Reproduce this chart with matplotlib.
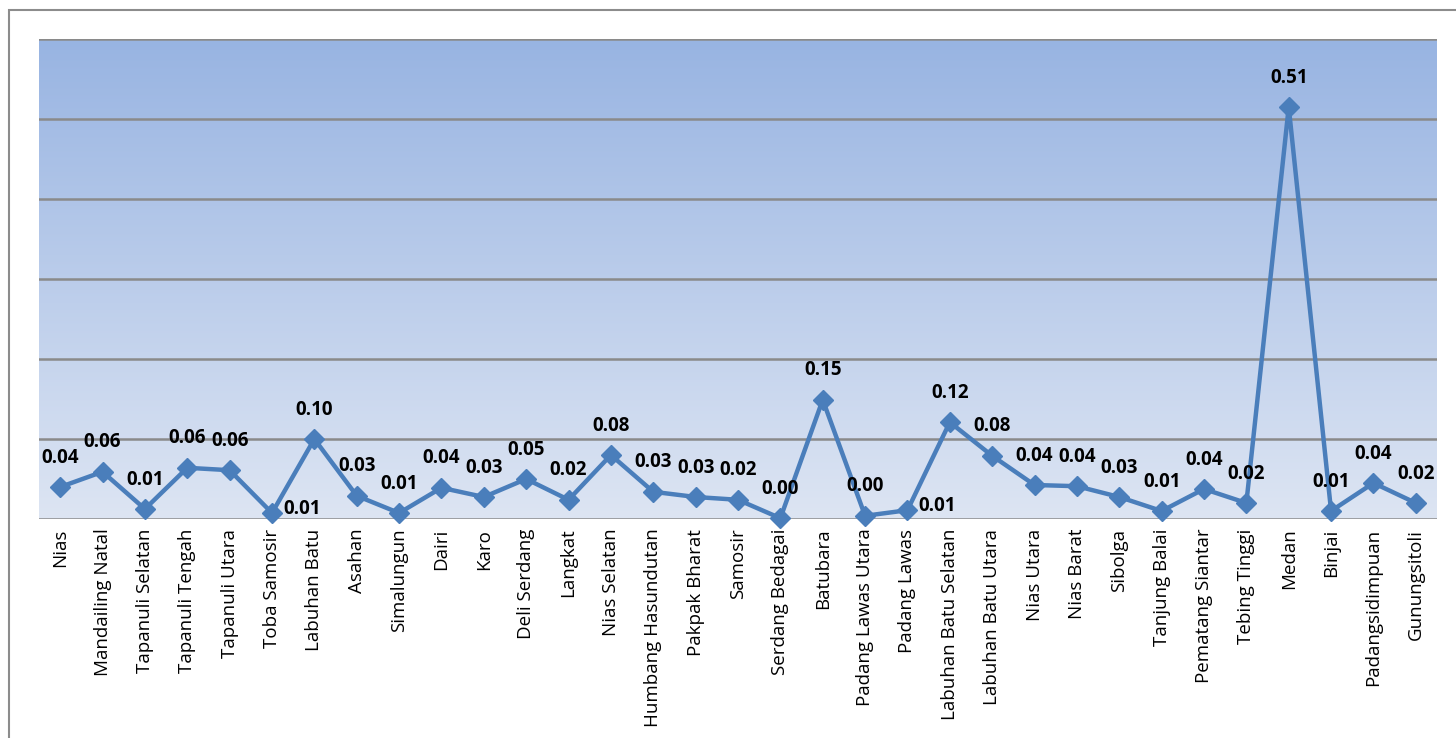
# line chart of district values, North Sumatra
import numpy as np
import matplotlib.pyplot as plt
from matplotlib.colors import LinearSegmentedColormap
from matplotlib.patches import Rectangle

districts = ["Nias", "Mandailing Natal", "Tapanuli Selatan", "Tapanuli Tengah",
             "Tapanuli Utara", "Toba Samosir", "Labuhan Batu", "Asahan",
             "Simalungun", "Dairi", "Karo", "Deli Serdang", "Langkat",
             "Nias Selatan", "Humbang Hasundutan", "Pakpak Bharat", "Samosir",
             "Serdang Bedagai", "Batubara", "Padang Lawas Utara", "Padang Lawas",
             "Labuhan Batu Selatan", "Labuhan Batu Utara", "Nias Utara",
             "Nias Barat", "Sibolga", "Tanjung Balai", "Pematang Siantar",
             "Tebing Tinggi", "Medan", "Binjai", "Padangsidimpuan", "Gunungsitoli"]
values = [0.040, 0.059, 0.0125, 0.064, 0.061, 0.0075, 0.100, 0.029,
          0.0075, 0.039, 0.0275, 0.050, 0.024, 0.080, 0.034, 0.0275, 0.024,
          0.001, 0.149, 0.004, 0.011, 0.121, 0.079, 0.0425, 0.041, 0.0275,
          0.010, 0.0375, 0.020, 0.515, 0.010, 0.045, 0.020]
labels = ["0.04", "0.06", "0.01", "0.06", "0.06", "0.01", "0.10", "0.03",
          "0.01", "0.04", "0.03", "0.05", "0.02", "0.08", "0.03", "0.03", "0.02",
          "0.00", "0.15", "0.00", "0.01", "0.12", "0.08", "0.04", "0.04", "0.03",
          "0.01", "0.04", "0.02", "0.51", "0.01", "0.04", "0.02"]
# labels that Excel placed to the right of the point
right_labels = ["Toba Samosir", "Padang Lawas"]

plt.rcParams['font.family'] = ['Open Sans', 'DejaVu Sans']

fig = plt.figure(figsize=(14.56, 7.38), dpi=100)
fig.patches.append(Rectangle((9/1456, -0.1), 1.2, 1 - 10/738 + 0.1,
                             transform=fig.transFigure, fill=False,
                             edgecolor='#8c8c8c', linewidth=1.5))
ax = fig.add_axes([39/1456, 1 - 519/738, 1398/1456, 480/738])

x = np.arange(len(districts))
ax.set_xlim(-0.5, len(districts) - 0.5)
ax.set_ylim(0, 0.6)

# gradient background
cmap = LinearSegmentedColormap.from_list('bg', ['#dde5f3', '#98b4e2'])
grad = np.linspace(0, 1, 256).reshape(-1, 1)
ax.imshow(grad, aspect='auto', cmap=cmap, origin='lower',
          extent=(-0.5, len(districts) - 0.5, 0, 0.6), zorder=0)

for yv in np.arange(0, 0.61, 0.1):
    ax.axhline(yv, color='#8a8a8a', linewidth=1.8, zorder=1)

ax.plot(x, values, color='#4a7ebb', linewidth=3.2, marker='D',
        markersize=10, zorder=3, clip_on=False)

for i, (v, lab) in enumerate(zip(values, labels)):
    if districts[i] in right_labels:
        ax.annotate(lab, (i, v), xytext=(8, 3), textcoords='offset points',
                    ha='left', va='center', fontsize=13.5, fontweight='bold')
    else:
        ax.annotate(lab, (i, v), xytext=(0, 14), textcoords='offset points',
                    ha='center', va='bottom', fontsize=13.5, fontweight='bold')

ax.set_xticks(x)
ax.set_xticklabels(districts, rotation=90, fontsize=13.5)
ax.tick_params(axis='x', length=0, pad=7)
ax.set_yticks([])
for s in ax.spines.values():
    s.set_visible(False)

fig.savefig('out.png', dpi=100)
